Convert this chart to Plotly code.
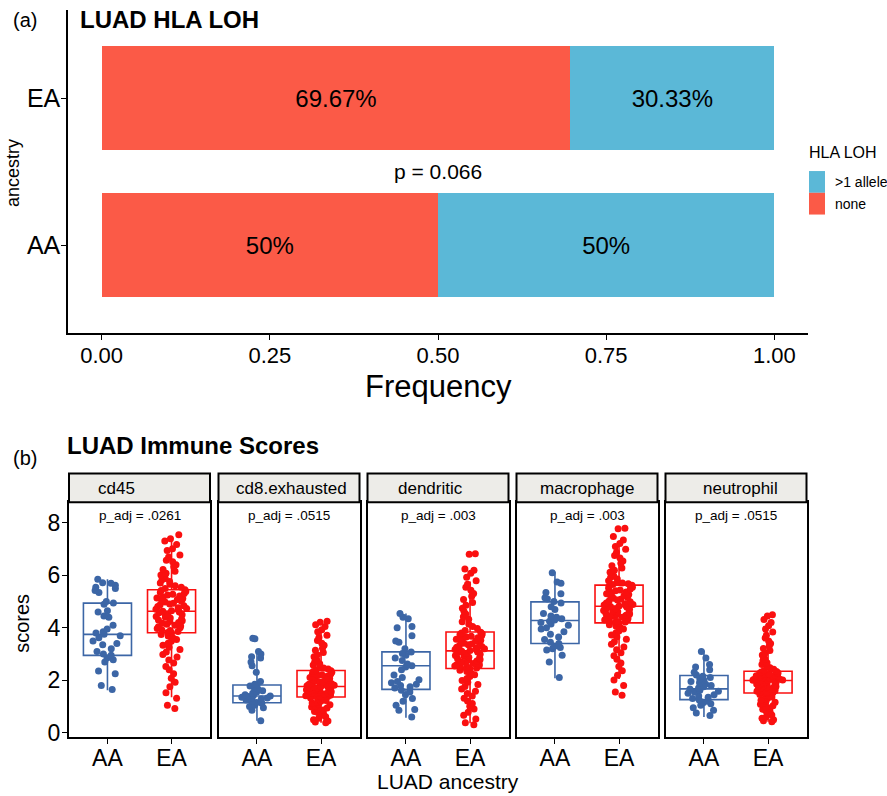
import plotly.graph_objects as go

W, H = 887, 796
def px(x): return x / W
def py(y): return 1 - y / H

FONT = "Liberation Sans, Arial, Helvetica, sans-serif"
RED_BAR = "#FB5A47"
BLUE_BAR = "#5BB8D7"
AA_COL = "#3C66A6"
EA_COL = "#FA1010"

# ---------------- Panel (a) data ----------------
ancestry = ["EA", "AA"]
none_freq = [0.6967, 0.50]
allele_freq = [0.3033, 0.50]
none_labels = ["69.67%", "50%"]
allele_labels = ["30.33%", "50%"]
p_text = "p = 0.066"
freq_ticks = [0.0, 0.25, 0.5, 0.75, 1.0]
freq_ticktext = ["0.00", "0.25", "0.50", "0.75", "1.00"]
legend_labels = [">1 allele", "none"]

# ---------------- Panel (b) data ----------------
cells = ["cd45", "cd8.exhausted", "dendritic", "macrophage", "neutrophil"]
p_adj = ["p_adj = .0261", "p_adj = .0515", "p_adj = .003", "p_adj = .003", "p_adj = .0515"]
groups = ["AA", "EA"]

aa_q1 = [2.95, 1.14, 1.65, 3.40, 1.26]
aa_med = [3.75, 1.40, 2.55, 4.28, 1.67]
aa_q3 = [4.94, 1.82, 3.08, 4.99, 2.18]
aa_lo = [1.62, 0.45, 0.57, 2.08, 0.60]
aa_hi = [5.85, 3.15, 4.55, 6.14, 3.13]

ea_q1 = [3.81, 1.36, 2.45, 4.19, 1.51]
ea_med = [4.63, 1.76, 3.12, 4.82, 1.99]
ea_q3 = [5.45, 2.37, 3.84, 5.63, 2.34]
ea_lo = [1.35, 0.38, 0.36, 2.05, 0.42]
ea_hi = [7.47, 3.85, 5.77, 7.25, 3.55]

cd45_AA = [5.85, 5.72, 5.70, 5.62, 5.55, 5.50, 5.42, 5.35, 5.00, 4.95, 4.90, 4.65, 4.60, 4.45, 4.40, 4.10, 3.95, 3.85,
           3.80, 3.75, 3.70, 3.62, 3.50, 3.40, 3.35, 3.20, 3.10, 3.00, 2.95, 2.85, 2.78, 2.70, 2.35, 2.25, 1.80, 1.65]
cd8_AA = [3.60, 3.58, 3.10, 3.00, 2.90, 2.85, 2.70, 2.55, 2.30, 1.95, 1.85, 1.80, 1.78, 1.70, 1.65, 1.60, 1.55, 1.50,
          1.45, 1.42, 1.40, 1.38, 1.35, 1.32, 1.30, 1.28, 1.25, 1.20, 1.18, 1.15, 1.12, 1.05, 1.00, 0.95, 0.85, 0.45]
dend_AA = [4.55, 4.40, 4.35, 4.05, 4.00, 3.70, 3.50, 3.45, 3.20, 3.08, 3.02, 2.95, 2.85, 2.75, 2.62, 2.55, 2.50, 2.40,
           2.20, 2.10, 2.02, 1.95, 1.90, 1.85, 1.80, 1.75, 1.70, 1.62, 1.55, 1.45, 1.30, 1.20, 1.05, 0.88, 0.85, 0.60]
mac_AA = [6.10, 5.75, 5.70, 5.35, 5.30, 5.15, 5.10, 5.00, 4.95, 4.80, 4.70, 4.55, 4.45, 4.40, 4.35, 4.30, 4.25, 4.20,
          4.15, 4.10, 4.00, 3.95, 3.85, 3.75, 3.65, 3.55, 3.45, 3.40, 3.30, 3.25, 3.20, 3.15, 2.95, 2.70, 2.10]
neu_AA = [3.10, 2.85, 2.60, 2.50, 2.40, 2.30, 2.20, 2.15, 2.10, 2.05, 2.00, 1.95, 1.90, 1.85, 1.80, 1.75, 1.70, 1.67,
          1.62, 1.58, 1.55, 1.50, 1.45, 1.40, 1.35, 1.30, 1.25, 1.20, 1.15, 1.10, 1.05, 0.95, 0.85, 0.75, 0.65]

cd45_EA = [7.55, 7.40, 7.31, 7.18, 7.02, 6.95, 6.78, 6.70, 6.58, 6.52, 6.41, 6.33, 6.22, 6.16, 6.08, 6.01, 5.95, 5.88,
           5.83, 5.77, 5.71, 5.66, 5.60, 5.55, 5.50, 5.45, 5.42, 5.39, 5.35, 5.31, 5.28, 5.25, 5.21, 5.17, 5.14, 5.12,
           5.08, 5.04, 5.01, 4.98, 4.94, 4.91, 4.88, 4.84, 4.81, 4.77, 4.74, 4.71, 4.68, 4.65, 4.63, 4.60, 4.57, 4.53,
           4.50, 4.47, 4.43, 4.40, 4.37, 4.33, 4.30, 4.27, 4.24, 4.20, 4.17, 4.14, 4.10, 4.07, 4.04, 4.00, 3.97, 3.93,
           3.90, 3.86, 3.82, 3.80, 3.74, 3.69, 3.62, 3.55, 3.49, 3.41, 3.33, 3.26, 3.17, 3.08, 2.98, 2.89, 2.77, 2.66,
           2.52, 2.40, 2.25, 2.08, 1.92, 1.75, 1.52, 1.31, 1.05, 0.92]
cd8_EA = [4.25, 4.21, 4.12, 4.05, 3.93, 3.85, 3.72, 3.63, 3.52, 3.41, 3.33, 3.22, 3.14, 3.06, 2.97, 2.90, 2.82, 2.76,
          2.69, 2.63, 2.58, 2.52, 2.47, 2.43, 2.39, 2.36, 2.33, 2.30, 2.27, 2.24, 2.21, 2.18, 2.15, 2.12, 2.10, 2.07,
          2.04, 2.02, 1.99, 1.97, 1.94, 1.92, 1.89, 1.87, 1.85, 1.83, 1.81, 1.79, 1.78, 1.77, 1.75, 1.73, 1.71, 1.70,
          1.68, 1.66, 1.64, 1.62, 1.61, 1.59, 1.57, 1.56, 1.54, 1.52, 1.51, 1.49, 1.47, 1.46, 1.44, 1.43, 1.41, 1.40,
          1.39, 1.38, 1.37, 1.35, 1.32, 1.29, 1.26, 1.23, 1.20, 1.16, 1.13, 1.09, 1.06, 1.02, 0.98, 0.94, 0.90, 0.86,
          0.81, 0.76, 0.71, 0.66, 0.61, 0.55, 0.49, 0.44, 0.41, 0.38]
dend_EA = [6.83, 6.81, 6.24, 6.20, 6.08, 5.93, 5.80, 5.66, 5.55, 5.43, 5.31, 5.20, 5.08, 4.97, 4.86, 4.75, 4.63, 4.53,
           4.42, 4.33, 4.23, 4.14, 4.05, 3.97, 3.90, 3.83, 3.80, 3.77, 3.74, 3.71, 3.68, 3.65, 3.62, 3.59, 3.56, 3.53,
           3.50, 3.47, 3.44, 3.41, 3.38, 3.35, 3.32, 3.29, 3.26, 3.23, 3.20, 3.17, 3.15, 3.13, 3.11, 3.08, 3.05, 3.02,
           2.99, 2.96, 2.94, 2.91, 2.88, 2.85, 2.82, 2.79, 2.76, 2.73, 2.70, 2.67, 2.64, 2.62, 2.59, 2.56, 2.54, 2.51,
           2.49, 2.47, 2.46, 2.43, 2.38, 2.33, 2.27, 2.21, 2.14, 2.07, 1.99, 1.92, 1.84, 1.76, 1.67, 1.58, 1.49, 1.40,
           1.31, 1.21, 1.11, 1.01, 0.90, 0.78, 0.66, 0.52, 0.38, 0.30]
mac_EA = [7.80, 7.78, 7.48, 7.35, 7.22, 7.10, 7.00, 6.88, 6.76, 6.66, 6.55, 6.46, 6.37, 6.28, 6.20, 6.12, 6.05, 5.98,
          5.92, 5.86, 5.80, 5.75, 5.71, 5.68, 5.65, 5.62, 5.58, 5.55, 5.51, 5.48, 5.44, 5.41, 5.37, 5.34, 5.30, 5.27,
          5.23, 5.20, 5.16, 5.13, 5.09, 5.06, 5.02, 4.99, 4.95, 4.92, 4.89, 4.87, 4.85, 4.83, 4.81, 4.78, 4.76, 4.73,
          4.71, 4.68, 4.66, 4.63, 4.61, 4.58, 4.56, 4.53, 4.51, 4.48, 4.46, 4.43, 4.40, 4.38, 4.35, 4.32, 4.30, 4.27,
          4.24, 4.22, 4.20, 4.17, 4.12, 4.07, 4.01, 3.95, 3.88, 3.81, 3.73, 3.65, 3.56, 3.47, 3.37, 3.27, 3.16, 3.05,
          2.93, 2.80, 2.66, 2.52, 2.36, 2.19, 2.01, 1.80, 1.55, 1.43]
neu_EA = [4.50, 4.45, 4.32, 4.20, 4.08, 3.95, 3.84, 3.72, 3.61, 3.50, 3.40, 3.31, 3.21, 3.13, 3.04, 2.96, 2.88, 2.81,
          2.74, 2.67, 2.60, 2.54, 2.48, 2.42, 2.37, 2.33, 2.31, 2.29, 2.27, 2.26, 2.24, 2.22, 2.20, 2.19, 2.17, 2.15,
          2.14, 2.12, 2.11, 2.09, 2.08, 2.07, 2.05, 2.04, 2.03, 2.02, 2.01, 2.00, 1.99, 1.99, 1.98, 1.96, 1.94, 1.92,
          1.90, 1.88, 1.86, 1.84, 1.82, 1.80, 1.78, 1.76, 1.74, 1.72, 1.70, 1.68, 1.66, 1.64, 1.62, 1.60, 1.58, 1.56,
          1.54, 1.53, 1.52, 1.49, 1.46, 1.43, 1.39, 1.36, 1.32, 1.28, 1.24, 1.20, 1.16, 1.12, 1.08, 1.03, 0.99, 0.94,
          0.89, 0.84, 0.79, 0.73, 0.67, 0.61, 0.55, 0.49, 0.45, 0.42]

aa_points = [cd45_AA, cd8_AA, dend_AA, mac_AA, neu_AA]
ea_points = [cd45_EA, cd8_EA, dend_EA, mac_EA, neu_EA]
score_ticks = [0, 2, 4, 6, 8]

fig = go.Figure()

# ---------------- Panel (a): stacked bars ----------------
for vals, labs, name, col in [(none_freq, none_labels, "none", RED_BAR),
                              (allele_freq, allele_labels, ">1 allele", BLUE_BAR)]:
    fig.add_trace(go.Bar(
        y=ancestry, x=vals, orientation="h", name=name, marker=dict(color=col, line=dict(width=0)),
        text=labs, textposition="inside", insidetextanchor="middle", textangle=0, constraintext="none",
        textfont=dict(size=24, color="black", family=FONT), width=0.71, xaxis="x", yaxis="y", showlegend=False,
    ))

# ---------------- Panel (b): boxes + jittered points ----------------
facet_left = [69, 218.5, 367.5, 516.5, 665.5]
facet_w = 141
strip_label_x = [117, 291, 430, 587, 740]

for i in range(len(cells)):
    xa = "x%d" % (i + 2)
    ya = "y%d" % (i + 2)
    for g, col, q1, md, q3, lo, hi in [
        ("AA", AA_COL, aa_q1, aa_med, aa_q3, aa_lo, aa_hi),
        ("EA", EA_COL, ea_q1, ea_med, ea_q3, ea_lo, ea_hi),
    ]:
        fig.add_trace(go.Box(
            x=[g], q1=[q1[i]], median=[md[i]], q3=[q3[i]], lowerfence=[lo[i]], upperfence=[hi[i]],
            width=0.75, whiskerwidth=0, fillcolor="white", line=dict(color=col, width=1.6),
            boxpoints=False, xaxis=xa, yaxis=ya, showlegend=False,
        ))
    for g, col, pts in [("AA", AA_COL, aa_points[i]), ("EA", EA_COL, ea_points[i])]:
        fig.add_trace(go.Box(
            x=[g] * len(pts), y=pts, boxpoints="all", jitter=0.68, pointpos=0, width=0.75,
            fillcolor="rgba(0,0,0,0)", line=dict(color="rgba(0,0,0,0)", width=0),
            marker=dict(color=col, size=7, line=dict(width=0)),
            xaxis=xa, yaxis=ya, showlegend=False, hoveron="points",
        ))

layout = dict(
    width=W, height=H, margin=dict(l=0, r=0, t=0, b=0),
    paper_bgcolor="white", plot_bgcolor="white",
    barmode="stack", boxmode="overlay",
    font=dict(family=FONT, color="black"),
    xaxis=dict(domain=[px(68), px(808)], range=[-0.05, 1.05], anchor="y", showline=True, linecolor="black",
               linewidth=1.5, ticks="outside", ticklen=5, tickwidth=1.3, tickcolor="black",
               tickvals=freq_ticks, ticktext=freq_ticktext, tickfont=dict(size=22, color="black"),
               ticklabelstandoff=-3, showgrid=False, zeroline=False),
    yaxis=dict(domain=[py(337), py(10)], range=[-0.6, 1.6], type="category", categoryorder="array",
               categoryarray=["AA", "EA"], anchor="x", showline=True, linecolor="black", linewidth=1.5,
               ticks="outside", ticklen=5, tickwidth=1.3, tickcolor="black", tickfont=dict(size=25, color="black"),
               ticklabelstandoff=-4, showgrid=False, zeroline=False),
)

for i in range(len(cells)):
    l = facet_left[i]
    layout["xaxis%d" % (i + 2)] = dict(
        domain=[px(l), px(l + facet_w)], anchor="y%d" % (i + 2), type="category", categoryorder="array",
        categoryarray=groups, range=[-0.6, 1.6], showline=True, mirror=True, linecolor="black", linewidth=2,
        ticks="outside", ticklen=5, tickwidth=1.3, tickcolor="black", tickfont=dict(size=23, color="black"),
        ticklabelstandoff=-5, showgrid=False, zeroline=False,
    )
    layout["yaxis%d" % (i + 2)] = dict(
        domain=[py(745), py(508)], anchor="x%d" % (i + 2), range=[-0.15, 8.79], showline=True, mirror=True,
        linecolor="black", linewidth=2, tickvals=score_ticks, showgrid=False, zeroline=False,
        ticks="outside" if i == 0 else "", ticklen=5, tickwidth=1.3, tickcolor="black",
        showticklabels=(i == 0), tickfont=dict(size=23, color="black"), ticklabelstandoff=-3,
    )

fig.update_layout(**layout)

ann = []
shapes = []

def pann(x, y, text, size, bold=False, xanchor="center", yanchor="middle", angle=0):
    ann.append(dict(x=px(x), y=py(y), xref="paper", yref="paper", text=("<b>%s</b>" % text) if bold else text,
                    showarrow=False, xanchor=xanchor, yanchor=yanchor, textangle=angle,
                    font=dict(size=size, color="black", family=FONT)))

# Panel (a) texts
pann(11, 20, "(a)", 20, xanchor="left")
pann(78, 20, "LUAD HLA LOH", 24, bold=True, xanchor="left")
pann(13, 175, "ancestry", 18, angle=-90)
pann(438, 391, "Frequency", 31)
ann.append(dict(x=0.5, y=0.5, xref="x", yref="y", text=p_text, showarrow=False,
                font=dict(size=21, color="black", family=FONT)))

# Manual legend
pann(807, 154, "HLA LOH", 16, xanchor="left")
leg_cols = [BLUE_BAR, RED_BAR]
for k, (lab, col) in enumerate(zip(legend_labels, leg_cols)):
    y0 = 173 + k * 22
    shapes.append(dict(type="rect", xref="paper", yref="paper", x0=px(809), x1=px(825),
                       y0=py(y0 + 22), y1=py(y0), fillcolor=col, line=dict(width=0)))
    pann(833, y0 + 11, lab, 14, xanchor="left")

# Panel (b) texts
pann(11, 463, "(b)", 20, xanchor="left")
pann(65, 451, "LUAD Immune Scores", 24, bold=True, xanchor="left")
pann(22, 631, "scores", 20, angle=-90)
pann(448, 804, "LUAD ancestry", 21, yanchor="bottom")

for i in range(len(cells)):
    l = facet_left[i]
    shapes.append(dict(type="rect", xref="paper", yref="paper", x0=px(l), x1=px(l + facet_w),
                       y0=py(508), y1=py(479), fillcolor="#EDECE8", line=dict(color="black", width=2)))
    pann(strip_label_x[i], 494, cells[i], 17)
    ann.append(dict(x=0.5, y=8.3, xref="x%d" % (i + 2), yref="y%d" % (i + 2), text=p_adj[i], showarrow=False,
                    font=dict(size=13.5, color="black", family=FONT)))

fig.update_layout(annotations=ann, shapes=shapes)
fig.write_html("out.html", config={"displayModeBar": False},
               post_script="document.body.style.margin='0px';")
